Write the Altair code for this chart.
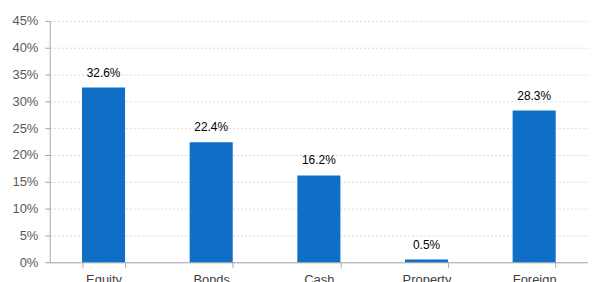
import altair as alt
import pandas as pd

categories = ["Equity", "Bonds", "Cash", "Property", "Foreign"]
values = [32.6, 22.4, 16.2, 0.5, 28.3]
labels = ["32.6%", "22.4%", "16.2%", "0.5%", "28.3%"]
y_ticks = [0, 5, 10, 15, 20, 25, 30, 35, 40, 45]

df = pd.DataFrame({"cat": categories, "val": [v / 100 for v in values], "lab": labels})

x = alt.X("cat:N", sort=categories, title=None,
          scale=alt.Scale(paddingInner=0.6, paddingOuter=0.3),
          axis=alt.Axis(labelAngle=0, labelFont="Liberation Sans", labelFontSize=13,
                        labelColor="#404040", domainColor="#a6a6a6", tickColor="#a6a6a6",
                        tickBand="extent", tickSize=5, labelPadding=6, grid=False))
y = alt.Y("val:Q", title=None,
          scale=alt.Scale(domain=[0, 0.45], nice=False),
          axis=alt.Axis(format=".0%", values=[round(t / 100, 2) for t in y_ticks],
                        labelOverlap=False, labelFlush=False,
                        labelFont="Liberation Sans", labelFontSize=13, labelColor="#595959",
                        domainColor="#a6a6a6", tickColor="#a6a6a6", tickSize=5,
                        labelPadding=7, gridColor="#d9d9d9", gridDash=[2, 2]))

base = alt.Chart(df).encode(x=x, y=y)
bars = base.mark_bar(color="#0f6fc6")
text = base.mark_text(dy=-8, baseline="bottom", font="Liberation Sans",
                      fontSize=12, color="#000000").encode(text="lab:N")

chart = (bars + text).properties(
    width=542, height=243,
    autosize=alt.AutoSizeParams(type="none"),
    padding={"left": 42, "top": 12, "right": 0, "bottom": 40},
).configure_view(stroke=None)

chart.save("out.html", embed_options={"renderer": "svg", "actions": False})
